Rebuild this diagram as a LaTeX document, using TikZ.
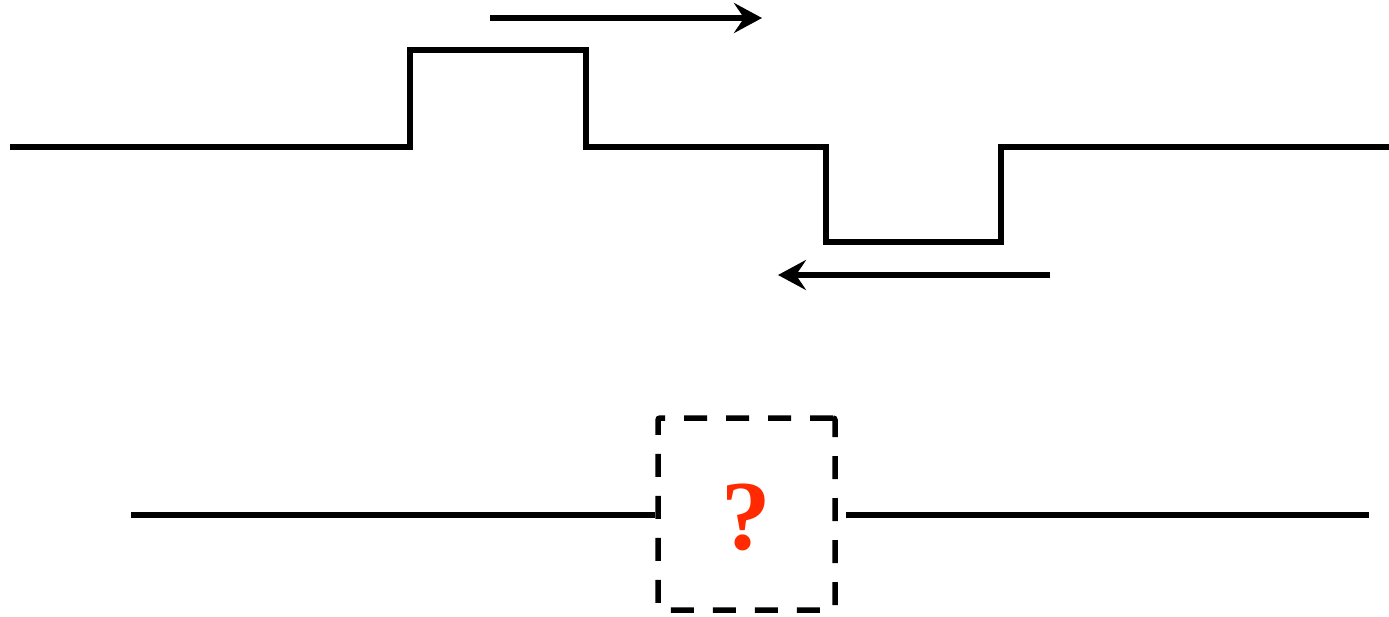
\documentclass[tikz,border=0pt]{standalone}
\usepackage{fontspec}
\setmainfont{Liberation Serif}
\usetikzlibrary{arrows.meta}
\definecolor{qred}{RGB}{255,42,0}

\begin{document}
\begin{tikzpicture}[x=1pt,y=-1pt,line width=5.5pt,
  flow/.style={-{Stealth[length=28pt,width=30pt,inset=10pt]}},
  blackbox/.style={draw,dashed,dash pattern=on 23pt off 19pt,rounded corners=2pt,
    minimum width=177pt,minimum height=192pt,inner sep=0pt}]
\useasboundingbox (0,0) rectangle (1389,616);
% pulse waveform
\coordinate (w0) at (10,147);
\coordinate (w1) at (410,147);
\coordinate (w2) at (410,50);
\coordinate (w3) at (586,50);
\coordinate (w4) at (586,147);
\coordinate (w5) at (826,147);
\coordinate (w6) at (826,242);
\coordinate (w7) at (1001,242);
\coordinate (w8) at (1001,147);
\coordinate (w9) at (1389,147);
\draw[line join=miter] (w0) -- (w1) -- (w2) -- (w3) -- (w4) -- (w5) -- (w6) -- (w7) -- (w8) -- (w9);
% directions
\coordinate (r0) at (490,18);
\coordinate (r1) at (762,18);
\coordinate (l0) at (1050,275);
\coordinate (l1) at (778,275);
\draw[flow] (r0) -- (r1);
\draw[flow] (l0) -- (l1);
% unknown element
\node[blackbox] (box) at (746.5,514) {};
\node[text=qred,font=\fontsize{99}{99}\selectfont\bfseries] (q) at (746,517) {?};
\coordinate (a0) at (131,515);
\coordinate (b1) at (1369,515);
\draw (a0) -- (box.west |- a0);
\draw ([xshift=8pt]box.east |- b1) -- (b1);
\end{tikzpicture}
\end{document}
